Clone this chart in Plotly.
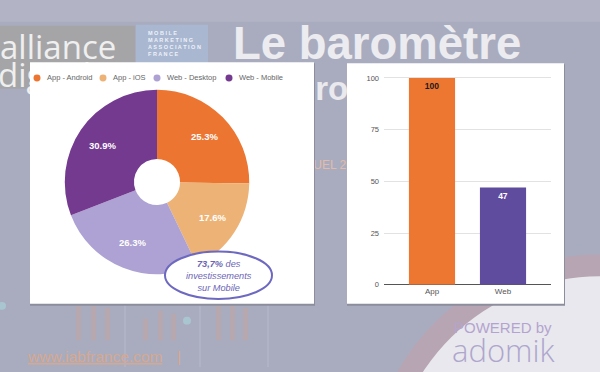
import math
import plotly.graph_objects as go

# ---------------- data ----------------
pie_labels = ["App - Android", "App - iOS", "Web - Desktop", "Web - Mobile"]
pie_values = [25.3, 17.6, 26.3, 30.9]
pie_colors = ["#ec7631", "#edb376", "#ada2d3", "#743a8f"]

bar_categories = ["App", "Web"]
bar_values = [100, 47]
bar_colors = ["#ed7631", "#5f4c9e"]
bar_text_colors = ["#1a1a1a", "#ffffff"]

y_ticks = [0, 25, 50, 75, 100]

callout_lines = ["<b>73,7%</b> des", "investissements", "sur Mobile"]

W, H = 600, 372
def px(x):
    return x / W
def py(y):
    return 1 - y / H

FONT = "Liberation Sans, Arial, sans-serif"
bg = "#a9acbf"

# pie geometry (pixels)
PIE_CX, PIE_CY, PIE_R = 157, 184.5, 93.5
LABEL_R = 66

fig = go.Figure()

# ---- background layer on a full-page pixel axis (x / y) ----
bg_texts = [
    ("digitale", -2, 80, 33, "#efefef", "normal", "Open Sans, sans-serif"),
    ("programmation", 295, 93, 33, "#e9e9ee", "bold", FONT),
    ("ANNUEL 2017", 288, 168, 12, "#e3bba8", "normal", FONT),
]
for t, x, y, s, c, w, f in bg_texts:
    fig.add_trace(go.Scatter(x=[x], y=[y], mode="text", text=[t], textposition="middle right",
                             textfont=dict(family=f, size=s, color=c, weight=w),
                             hoverinfo="skip", showlegend=False, xaxis="x", yaxis="y"))

panels = [(30, 314, 63, 308), (347, 564, 64, 308)]
for x0, x1, y0, y1 in panels:
    fig.add_trace(go.Scatter(x=[x0, x1 + 1, x1 + 1, x0, x0], y=[y0 + 1, y0 + 1, y1 + 2, y1 + 2, y0 + 1],
                             fill="toself", fillcolor="#8d8e9c", mode="lines", line=dict(width=0),
                             hoverinfo="skip", showlegend=False, xaxis="x", yaxis="y"))
    fig.add_trace(go.Scatter(x=[x0, x1, x1, x0, x0], y=[y0, y0, y1, y1, y0],
                             fill="toself", fillcolor="white", mode="lines", line=dict(width=0),
                             hoverinfo="skip", showlegend=False, xaxis="x", yaxis="y"))

# pie
fig.add_trace(go.Pie(
    labels=pie_labels, values=pie_values,
    marker=dict(colors=pie_colors, line=dict(width=0)),
    hole=0.25, sort=False, direction="clockwise", rotation=0,
    textinfo="none",
    domain=dict(x=[px(PIE_CX - PIE_R), px(PIE_CX + PIE_R)], y=[py(PIE_CY + PIE_R), py(PIE_CY - PIE_R)]),
    showlegend=False,
))

# bars
fig.add_trace(go.Bar(
    x=bar_categories, y=bar_values,
    marker=dict(color=bar_colors, line=dict(width=0)),
    width=0.65,
    text=[str(v) for v in bar_values], textposition="inside",
    insidetextanchor="end", textangle=0,
    textfont=dict(family=FONT, size=8.5, color=bar_text_colors, weight="bold"),
    showlegend=False, xaxis="x2", yaxis="y2",
))

shapes = []
annotations = []

# ---- background decorations (below everything) ----
shapes.append(dict(type="rect", xref="paper", yref="paper", x0=0, x1=1, y0=py(22), y1=1,
                   fillcolor="#b2b4c5", line=dict(width=0), layer="below"))
for xl in [125, 200, 268]:
    shapes.append(dict(type="line", xref="paper", yref="paper", x0=px(xl), x1=px(xl), y0=0, y1=py(308),
                       line=dict(color="rgba(200,202,215,0.5)", width=1), layer="below"))
for x0, top in [(76, 310), (91, 310), (105, 312), (143, 323), (158, 315), (171, 318),
                (216, 310), (230, 310), (243, 312)]:
    shapes.append(dict(type="rect", xref="paper", yref="paper", x0=px(x0), x1=px(x0 + 5),
                       y0=py(345), y1=py(top), fillcolor="rgba(214,160,140,0.3)",
                       line=dict(width=0), layer="below"))
for cx, cy in [(2, 310), (187, 325)]:
    shapes.append(dict(type="circle", xref="paper", yref="paper", x0=px(cx - 4), x1=px(cx + 4),
                       y0=py(cy + 4), y1=py(cy - 4), fillcolor="rgba(170,215,220,0.6)",
                       line=dict(width=0), layer="below"))
shapes.append(dict(type="circle", xref="paper", yref="paper",
                   x0=px(600 - 232), x1=px(600 + 232), y0=py(490 + 232), y1=py(490 - 232),
                   fillcolor="#b8a5b3", line=dict(width=0), layer="below"))
shapes.append(dict(type="circle", xref="paper", yref="paper",
                   x0=px(600 - 210), x1=px(600 + 210), y0=py(490 + 210), y1=py(490 - 210),
                   fillcolor="#e9e8ee", line=dict(width=0), layer="below"))
shapes.append(dict(type="rect", xref="paper", yref="paper", x0=0, x1=px(135), y0=py(90), y1=py(26),
                   fillcolor="#a5a5a8", line=dict(width=0), layer="below"))
shapes.append(dict(type="rect", xref="paper", yref="paper", x0=px(136), x1=px(208), y0=py(90), y1=py(25),
                   fillcolor="#a9b7d1", line=dict(width=0), layer="below"))

annotations.append(dict(xref="paper", yref="paper", x=px(-2), y=py(47), xanchor="left", yanchor="middle",
                        text="alliance", showarrow=False,
                        font=dict(family="Open Sans, sans-serif", size=33, color="#efefef")))
annotations.append(dict(xref="paper", yref="paper", x=px(146), y=py(44), xanchor="left", yanchor="middle",
                        text="M O B I L E<br>M A R K E T I N G<br>A S S O C I A T I O N<br>F R A N C E",
                        showarrow=False, align="left",
                        font=dict(family=FONT, size=5.5, color="#eef2f8", weight="bold")))
annotations.append(dict(xref="paper", yref="paper", x=px(231), y=py(44), xanchor="left", yanchor="middle",
                        text="Le baromètre", showarrow=False,
                        font=dict(family=FONT, size=45.5, color="#ececf0", weight="bold")))
annotations.append(dict(xref="paper", yref="paper", x=px(25), y=py(361), xanchor="left", yanchor="middle",
                        text="<u>www.iabfrance.com</u>", showarrow=False,
                        font=dict(family=FONT, size=15.5, color="#d6a88f")))
annotations.append(dict(xref="paper", yref="paper", x=px(179), y=py(361), xanchor="center", yanchor="middle",
                        text="|", showarrow=False,
                        font=dict(family=FONT, size=15.5, color="#d6a88f")))
annotations.append(dict(xref="paper", yref="paper", x=px(503), y=py(332), xanchor="center", yanchor="middle",
                        text="POWERED by", showarrow=False,
                        font=dict(family=FONT, size=15, color="#b3a4cf")))
annotations.append(dict(xref="paper", yref="paper", x=px(503), y=py(355), xanchor="center", yanchor="middle",
                        text="adomik", showarrow=False,
                        font=dict(family="Open Sans, sans-serif", size=31, color="#aea6cd", weight=300)))

# pie slice labels placed at each slice's mid-angle (computed from the values)
total = sum(pie_values)
cum = 0.0
for v in pie_values:
    mid = (cum + v / 2) / total * 2 * math.pi
    cum += v
    lx = PIE_CX + LABEL_R * math.sin(mid)
    ly = PIE_CY - LABEL_R * math.cos(mid)
    annotations.append(dict(xref="paper", yref="paper", x=px(lx), y=py(ly), xanchor="center",
                            yanchor="middle", text=f"{v:.1f}%", showarrow=False,
                            font=dict(family=FONT, size=9.5, color="white", weight="bold")))

# legend for pie (custom circles + labels)
legend_x = [37, 103, 157, 229]
for lab, col, lx in zip(pie_labels, pie_colors, legend_x):
    shapes.append(dict(type="circle", xref="paper", yref="paper",
                       x0=px(lx - 3.5), x1=px(lx + 3.5), y0=py(79 + 3.5), y1=py(79 - 3.5),
                       fillcolor=col, line=dict(width=0)))
    annotations.append(dict(xref="paper", yref="paper", x=px(lx + 8), y=py(79), xanchor="left",
                            yanchor="middle", text=lab, showarrow=False,
                            font=dict(family=FONT, size=7.5, color="#666666")))

# callout ellipse
shapes.append(dict(type="circle", xref="paper", yref="paper",
                   x0=px(165), x1=px(272), y0=py(303), y1=py(255),
                   fillcolor="white", line=dict(color="#6e69c0", width=2)))
annotations.append(dict(xref="paper", yref="paper", x=px(218.5), y=py(279.5), xanchor="center",
                        yanchor="middle", text="<i>" + "<br>".join(callout_lines) + "</i>",
                        showarrow=False, align="center",
                        font=dict(family=FONT, size=9.2, color="#6b65b6")))

fig.update_layout(
    width=W, height=H, margin=dict(l=0, r=0, t=0, b=0),
    paper_bgcolor=bg, plot_bgcolor="rgba(0,0,0,0)",
    shapes=shapes, annotations=annotations,
    xaxis=dict(domain=[0, 1], range=[0, W], visible=False, fixedrange=True),
    yaxis=dict(domain=[0, 1], range=[H, 0], visible=False, fixedrange=True),
    xaxis2=dict(domain=[px(384), px(551)], range=[-0.676, 1.676], type="category",
                showgrid=False, zeroline=False, showline=False, ticks="",
                tickfont=dict(family=FONT, size=8, color="#555555"), anchor="y2"),
    yaxis2=dict(domain=[py(288.7), py(68.5)], range=[0, 105], tickvals=y_ticks,
                showgrid=True, gridcolor="#e2e2e2", gridwidth=1,
                zeroline=True, zerolinecolor="#555555", zerolinewidth=1,
                ticks="", ticklabelstandoff=4,
                tickfont=dict(family=FONT, size=7.5, color="#555555"), anchor="x2"),
    uniformtext=dict(minsize=7, mode="show"),
)

fig.write_html("out.html", config={"displayModeBar": False},
               post_script="document.body.style.margin='0';document.body.style.overflow='hidden';")
